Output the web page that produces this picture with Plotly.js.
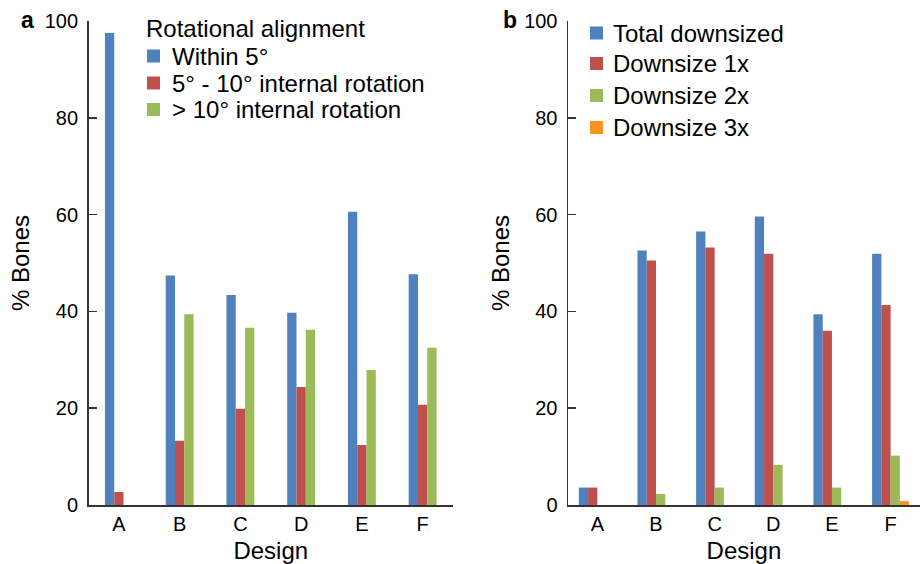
<!DOCTYPE html>
<html>
<head>
<meta charset="utf-8">
<script src="https://cdn.plot.ly/plotly-3.0.1.min.js"></script>
<style>html,body{margin:0;padding:0;background:#fff;}#chart{width:923px;height:564px;}</style>
</head>
<body>
<div id="chart"></div>
<script>
// ---- data ----
const categories = ['A', 'B', 'C', 'D', 'E', 'F'];
// Panel a: rotational alignment (% bones)
const within5 = [97.5, 47.4, 43.4, 39.7, 60.6, 47.7];
const rot5to10 = [2.7, 13.3, 19.9, 24.4, 12.4, 20.7];
const rotOver10 = [0, 39.4, 36.6, 36.2, 27.9, 32.5];
// Panel b: downsizing (% bones)
const totalDown = [3.6, 52.6, 56.5, 59.6, 39.4, 51.9];
const down1x = [3.6, 50.5, 53.2, 51.9, 36.0, 41.3];
const down2x = [0, 2.3, 3.6, 8.3, 3.6, 10.2];
const down3x = [0, 0, 0, 0, 0, 0.8];
const yTicks = [0, 20, 40, 60, 80, 100];
const legendTitleA = 'Rotational alignment';
const seriesNamesA = ['Within 5°', '5° - 10° internal rotation', '> 10° internal rotation'];
const seriesNamesB = ['Total downsized', 'Downsize 1x', 'Downsize 2x', 'Downsize 3x'];

const FONT = 'Liberation Sans, Arial, Helvetica, sans-serif';
const BLUE = '#4F81BD', RED = '#C0504D', GREEN = '#9BBB59', ORANGE = '#F7931E';
const colorsA = [BLUE, RED, GREEN];
const colorsB = [BLUE, RED, GREEN, ORANGE];

const W = 923, PLOT_BOTTOM = 505, PLOT_H = 484;
const px2x = p => p / W;
const px2y = p => (PLOT_BOTTOM - p) / PLOT_H;

const wA = 0.153, wB = 0.158;
function bar(y, name, color, xa, ya, w, off) {
  return {
    type: 'bar', x: categories, y: y, name: name, xaxis: xa, yaxis: ya,
    width: w, offset: off, marker: {color: color, line: {width: 0}},
    showlegend: false, hoverinfo: 'x+y+name'
  };
}
const seriesA = [within5, rot5to10, rotOver10];
const seriesB = [totalDown, down1x, down2x, down3x];
const traces = [];
seriesA.forEach((s, i) => traces.push(bar(s, seriesNamesA[i], colorsA[i], 'x', 'y', wA, (i - 1.5) * wA)));
seriesB.forEach((s, i) => traces.push(bar(s, seriesNamesB[i], colorsB[i], 'x2', 'y2', wB, (i - 2) * wB)));

function xAxis(domain, anchor) {
  return {
    domain: domain, anchor: anchor, type: 'category',
    showline: true, linecolor: '#333', linewidth: 1.5,
    ticks: '', showgrid: false, zeroline: false,
    tickfont: {family: FONT, size: 20, color: '#000'},
    title: {text: 'Design', font: {family: FONT, size: 24, color: '#000'}, standoff: 9}
  };
}
function yAxis(anchor, standoff) {
  return {
    anchor: anchor, range: [0, 100], tickvals: yTicks, ticktext: yTicks.map(String),
    showline: true, linecolor: '#333', linewidth: 1.5,
    ticks: 'inside', ticklen: 8, tickwidth: 1.5, tickcolor: '#333',
    showgrid: false, zeroline: false, ticklabelstandoff: 5,
    tickfont: {family: FONT, size: 20, color: '#000'},
    title: {text: '% Bones', font: {family: FONT, size: 24, color: '#000'}, standoff: standoff}
  };
}

// custom legends (swatch squares + text)
const shapes = [];
const annotations = [];
function legendItem(color, text, swX, txtX, cy) {
  shapes.push({type: 'rect', xref: 'paper', yref: 'paper',
    x0: px2x(swX), x1: px2x(swX + 13), y0: px2y(cy + 6.5), y1: px2y(cy - 6.5),
    fillcolor: color, line: {width: 0}});
  annotations.push({text: text, xref: 'paper', yref: 'paper', x: px2x(txtX), y: px2y(cy),
    xanchor: 'left', yanchor: 'middle', showarrow: false,
    font: {family: FONT, size: 24, color: '#000'}});
}
annotations.push({text: legendTitleA, xref: 'paper', yref: 'paper', x: px2x(144), y: px2y(29),
  xanchor: 'left', yanchor: 'middle', showarrow: false, font: {family: FONT, size: 24, color: '#000'}});
const cyA = [56, 83, 109.5];
seriesNamesA.forEach((n, i) => legendItem(colorsA[i], n, 147, 170, cyA[i]));
const cyB = [33, 63.5, 95.5, 127.5];
seriesNamesB.forEach((n, i) => legendItem(colorsB[i], n, 590, 611, cyB[i]));

annotations.push({text: '<b>a</b>', xref: 'paper', yref: 'paper', x: px2x(27), y: px2y(20),
  showarrow: false, font: {family: FONT, size: 23, color: '#000'}, xanchor: 'center', yanchor: 'middle'});
annotations.push({text: '<b>b</b>', xref: 'paper', yref: 'paper', x: px2x(510), y: px2y(20),
  showarrow: false, font: {family: FONT, size: 23, color: '#000'}, xanchor: 'center', yanchor: 'middle'});

const layout = {
  width: 923, height: 564,
  margin: {l: 0, r: 0, t: 21, b: 59},
  paper_bgcolor: '#fff', plot_bgcolor: '#fff',
  font: {family: FONT, color: '#000'},
  barmode: 'group',
  showlegend: false,
  xaxis: xAxis([0.0959, 0.4908], 'y'),
  yaxis: yAxis('x', 8),
  xaxis2: xAxis([0.6154, 0.9967], 'y2'),
  yaxis2: yAxis('x2', 7),
  shapes: shapes,
  annotations: annotations
};

Plotly.newPlot('chart', traces, layout, {displayModeBar: false, staticPlot: true});
</script>
</body>
</html>
